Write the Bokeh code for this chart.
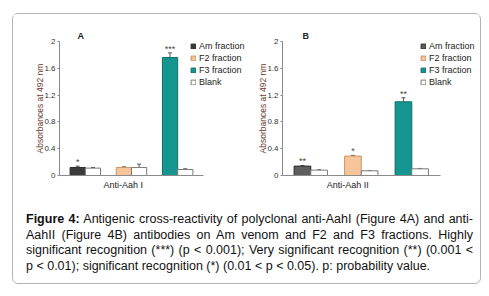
from bokeh.plotting import figure
from bokeh.models import (Range1d, FixedTicker, NumeralTickFormatter, CustomJSTickFormatter,
                          Legend, LegendItem, Whisker, ColumnDataSource, Div, Title)
from bokeh.layouts import column, row
from bokeh.core.properties import value
from bokeh.embed import file_html
from bokeh.resources import INLINE

# ---------------- data ----------------
fractions = ["Am fraction", "F2 fraction", "F3 fraction"]
groups = [0, 1, 2]

a_values = [0.12, 0.12, 1.76]
a_err = [0.02, 0.01, 0.07]
a_blank = [0.11, 0.12, 0.09]
a_blank_err = [0.01, 0.05, 0.01]
a_stars = ["*", "", "***"]

b_values = [0.14, 0.29, 1.10]
b_err = [0.01, 0.01, 0.06]
b_blank = [0.08, 0.07, 0.10]
b_blank_err = [0.005, 0.005, 0.005]
b_stars = ["**", "*", "**"]

y_ticks = [0, 0.4, 0.8, 1.2, 1.6, 2]
panel_letters = ["A", "B"]
x_labels = ["Anti-Aah I", "Anti-Aah II"]
y_label = "Absorbances at 492 nm"

FONT = "Liberation Sans"
BW = 0.33
X0, X1 = -0.56, 2.56


def panel(letter, vals, errs, blanks, berrs, stars, xlabel, am_color,
          width, height, mb_left, mb_top, mb_bottom, px_x,
          leg_x, leg_y, title_off, xlabel_pos):
    fill = [am_color, "#f8c49a", "#14958f"]
    line = ["#2a2a2a", "#c89468", "#0d6d68"]
    frame_w = width - mb_left
    x_end = X0 + frame_w / px_x
    p = figure(width=width, height=height, output_backend="svg", toolbar_location=None,
               x_range=Range1d(X0, x_end), y_range=Range1d(0, 2),
               min_border_left=mb_left, min_border_right=0,
               min_border_top=mb_top, min_border_bottom=mb_bottom)
    p.grid.visible = False
    p.outline_line_color = None
    p.background_fill_color = "white"
    p.border_fill_color = "white"

    xs = [g - BW / 2 for g in groups]
    xb = [g + BW / 2 for g in groups]
    src = ColumnDataSource(dict(x=xs, top=vals, up=[v + e for v, e in zip(vals, errs)],
                                stars=stars))
    srcb = ColumnDataSource(dict(x=xb, top=blanks, up=[v + e for v, e in zip(blanks, berrs)]))

    bars = []
    for i in range(3):
        r = p.vbar(x=[xs[i]], top=[vals[i]], width=BW, bottom=0,
                   fill_color=fill[i], line_color=line[i], line_width=1)
        bars.append(r)
    rb = p.vbar(x="x", top="top", width=BW, bottom=0, source=srcb,
                fill_color="white", line_color="#7a7a7a", line_width=1)

    for s in (src, srcb):
        w = Whisker(base="x", lower="top", upper="up", source=s,
                    line_color="#555555", line_width=1)
        w.lower_head = None
        w.upper_head.size = 4
        w.upper_head.line_color = "#555555"
        p.add_layout(w)

    p.text(x="x", y="up", text="stars", source=src, text_align="center",
           text_baseline="bottom", y_offset=1, text_font=value(FONT),
           text_font_size="9px", text_color="#444444")

    items = [LegendItem(label=fractions[i], renderers=[bars[i]]) for i in range(3)]
    items.append(LegendItem(label="Blank", renderers=[rb]))
    leg = Legend(items=items, location=(leg_x, leg_y), orientation="vertical",
                 padding=0, margin=0, spacing=2, label_height=9, glyph_height=6,
                 glyph_width=6, label_standoff=3, border_line_color=None,
                 background_fill_alpha=0, label_text_font=FONT,
                 label_text_font_size="9px", label_text_color="#222222")
    p.add_layout(leg, "center")

    yax = p.yaxis[0]
    yax.ticker = FixedTicker(ticks=y_ticks)
    yax.formatter = NumeralTickFormatter(format="0.[0]")
    yax.axis_line_color = "#8a8a8a"
    yax.major_tick_line_color = "#8a8a8a"
    yax.major_tick_out = 2
    yax.major_tick_in = 0
    yax.minor_tick_line_color = None
    yax.major_label_standoff = 2
    yax.major_label_text_font = FONT
    yax.major_label_text_font_size = "8px"
    yax.major_label_text_color = "#333333"
    yax.axis_label = y_label
    yax.axis_label_standoff = -4
    yax.axis_label_text_font = FONT
    yax.axis_label_text_font_size = "8.5px"
    yax.axis_label_text_font_style = "normal"
    yax.axis_label_text_color = "#6b3a2a"

    xax = p.xaxis[0]
    xax.bounds = (X0, X1)
    xax.ticker = FixedTicker(ticks=[xlabel_pos])
    xax.formatter = CustomJSTickFormatter(code="return '%s';" % xlabel)
    xax.axis_line_color = "#8a8a8a"
    xax.major_tick_line_color = None
    xax.major_tick_out = 0
    xax.major_tick_in = 0
    xax.minor_tick_line_color = None
    xax.major_label_standoff = 4
    xax.major_label_text_font = FONT
    xax.major_label_text_font_size = "9px"
    xax.major_label_text_color = "#222222"

    t = Title(text=letter, align="left", offset=title_off, standoff=1,
              text_font=FONT, text_font_size="9px", text_font_style="bold",
              text_color="#222222")
    p.add_layout(t, "above")
    return p


pA = panel(panel_letters[0], a_values, a_err, a_blank, a_blank_err, a_stars, x_labels[0],
           "#3b3b3b", 232, 186, 46, 27, 25, 46.15, 131, 88, 18, 0.82)
pB = panel(panel_letters[1], b_values, b_err, b_blank, b_blank_err, b_stars, x_labels[1],
           "#5e5e5e", 234, 186, 37, 26, 23, 50.5, 138, 88, 20, 0.73)

caption = ('<div style="box-sizing:border-box;width:467px;padding:12px 7px 0 13px;'
           'font-family:\'Liberation Sans\',Arial,sans-serif;font-size:12.5px;line-height:15.7px;'
           'text-align:justify;color:#111111;">'
           '<b>Figure 4:</b> Antigenic cross-reactivity of polyclonal anti-AahI (Figure 4A) and '
           'anti-AahII (Figure 4B) antibodies on Am venom and F2 and F3 fractions. Highly '
           'significant recognition (***) (p &lt; 0.001); Very significant recognition (**) '
           '(0.001 &lt; p &lt; 0.01); significant recognition (*) (0.01 &lt; p &lt; 0.05). '
           'p: probability value.</div>')
cap = Div(text=caption, width=467, height=83, margin=(0, 0, 0, 0))

root = column(row(pA, pB, spacing=0), cap, spacing=0, margin=(13, 0, 0, 12),
              styles={"border": "1px solid #b4b4b4", "border-radius": "6px"})

open("out.html", "w").write(file_html(root, INLINE))
